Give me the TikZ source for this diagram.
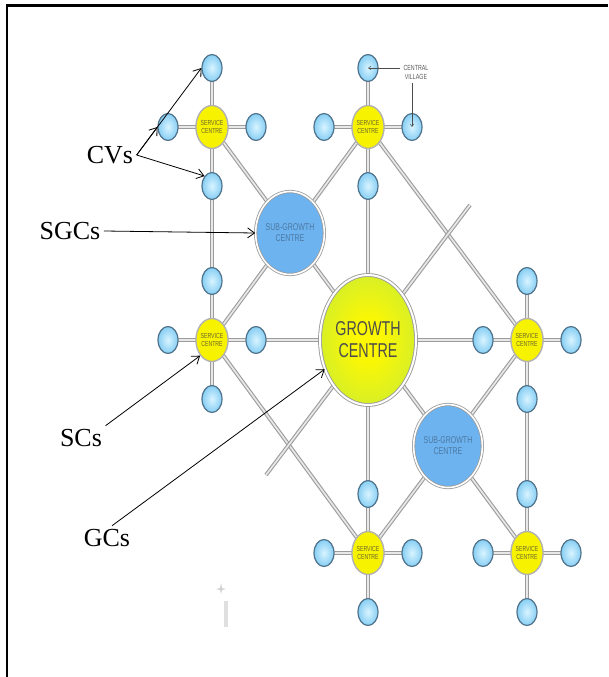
\documentclass[tikz,border=0pt]{standalone}
\usepackage{fontspec}
\usepackage{graphicx}
\setmainfont{Liberation Serif}
\setsansfont{Liberation Sans}
\usetikzlibrary{arrows.meta,shapes.geometric,backgrounds}

\definecolor{villagefill}{HTML}{86CEF4}
\definecolor{villagecore}{HTML}{D9F4FF}
\definecolor{villageedge}{HTML}{50728A}
\definecolor{serviceyellow}{HTML}{F7F200}
\definecolor{servicetext}{HTML}{6E6A2E}
\definecolor{subgrowthblue}{HTML}{6DB3F0}
\definecolor{subgrowthtext}{HTML}{4C78A0}
\definecolor{growthcore}{HTML}{FFF800}
\definecolor{growthmid}{HTML}{D2EE2C}
\definecolor{growthrim}{HTML}{9CDF3E}
\definecolor{roadgray}{HTML}{9C9C9C}

% yellow core fading to green rim
\pgfdeclareradialshading{growthshade}{\pgfpoint{0bp}{0bp}}{color(0bp)=(growthcore); color(6bp)=(growthcore); color(28bp)=(growthmid); color(46bp)=(growthrim); color(50bp)=(growthrim)}

% the plan is drawn tall: stretch its lettering the same way
\newcommand{\tall}[1]{\scalebox{1}[1.4]{#1}}

\begin{document}
\begin{tikzpicture}[x=1pt,y=-1pt,
 village/.style={ellipse,draw=villageedge,line width=1.2pt,inner color=villagecore,outer color=villagefill,
  minimum width=20pt,minimum height=27pt,inner sep=0pt},
 service/.style={ellipse,draw=gray!60,line width=1.4pt,fill=serviceyellow,minimum width=32pt,minimum height=43pt,
  inner sep=0pt,align=center,text=servicetext,font=\sffamily\fontsize{5.2}{8}\selectfont},
 subgrowth/.style={ellipse,draw=roadgray,double=white,double distance=1.6pt,line width=0.8pt,fill=subgrowthblue,
  minimum width=61pt,minimum height=83pt,inner sep=0pt,align=center,text=subgrowthtext,
  font=\sffamily\fontsize{7}{11}\selectfont},
 growth/.style={ellipse,draw=roadgray,double=white,double distance=2pt,line width=0.9pt,shading=growthshade,
  minimum width=96pt,minimum height=130pt,inner sep=0pt,align=center,text=black!70,
  font=\sffamily\fontsize{14.3}{22}\selectfont},
 road/.style={draw=roadgray,double=gray!18,double distance=1.7pt,line width=1.1pt},
 tag/.style={font=\fontsize{26}{26}\selectfont},
 pointer/.style={-{Straight Barb[length=7pt,width=10pt]},line width=0.8pt},
 villagepointer/.style={-{Straight Barb[length=2.5pt,width=3.5pt]},line width=0.5pt,black!70}]
\useasboundingbox (0,0) rectangle (608,677);
% frame: only its top and left edges are left
\draw[line width=2.2pt] (7,677) -- (7,5.5) -- (608,5.5);

% service centres, each with four central villages round it
\foreach \n/\x/\y in {tl/212/127,t/368/127,l/212/340,r/527/340,b/368/553,br/527/553}{
  \node[service] (\n) at (\x,\y) {\tall{SERVICE}\\\tall{CENTRE}};
  \node[village] (\n-n) at (\x,\y-59) {};
  \node[village] (\n-s) at (\x,\y+59) {};
  \node[village] (\n-w) at (\x-44,\y) {};
  \node[village] (\n-e) at (\x+44,\y) {};
}
\node[growth] (gc) at (368,340) {\tall{GROWTH}\\\tall{CENTRE}};
\node[subgrowth] (sgc1) at (290,233) {\tall{SUB-GROWTH}\\\tall{CENTRE}};
\node[subgrowth] (sgc2) at (448,446) {\tall{SUB-GROWTH}\\\tall{CENTRE}};
\coordinate (crossA) at (470,205);
\coordinate (crossB) at (266,475);

% roads
\begin{scope}[on background layer]
\draw[road] (tl-n.center) -- (l-s.center);
\draw[road] (t-n.center) -- (b-s.center);
\draw[road] (r-n.center) -- (br-s.center);
\foreach \n in {tl,t,b,br} \draw[road] (\n-w.center) -- (\n-e.center);
\draw[road] (l-w.center) -- (r-e.center);
\draw[road] (tl.center) -- (br.center);
\draw[road] (t.center) -- (l.center);
\draw[road] (t.center) -- (r.center);
\draw[road] (l.center) -- (b.center);
\draw[road] (r.center) -- (b.center);
\draw[road] (crossA) -- (crossB);
\end{scope}

\node[align=center,text=black!65,font=\sffamily\fontsize{5.3}{9}\selectfont] (cvlabel) at (416,72)
 {\tall{CENTRAL}\\\tall{VILLAGE}};
\draw[villagepointer] (cvlabel.west |- t-n) -- (t-n.center);
\draw[villagepointer] (cvlabel.south -| t-e) -- (t-e.center);

% key on the left
\node[tag] (cvs) at (110,155) {CVs};
\node[tag] (sgcs) at (70,231) {SGCs};
\node[tag] (scs) at (81,438) {SCs};
\node[tag] (gcs) at (107,538) {GCs};
\draw[pointer] (cvs.east) -- (tl-n.west);
\draw[pointer] (cvs.east) -- (tl-w.west);
\draw[pointer] (cvs.east) -- (tl-s.north west);
\draw[pointer] (sgcs.east) -- (sgc1.west);
\draw[pointer] (scs.north east) -- (l.south west);
\draw[pointer] ([xshift=5pt]gcs.north) -- (gc.214);

% faint mark left in the lower corner
\fill[gray!35] (221,583) -- (222,588) -- (226,589) -- (222,590) -- (221,594) -- (220,590) -- (216,589) -- (220,588) -- cycle;
\fill[gray!25] (224,601) rectangle (228,627);
\end{tikzpicture}
\end{document}
